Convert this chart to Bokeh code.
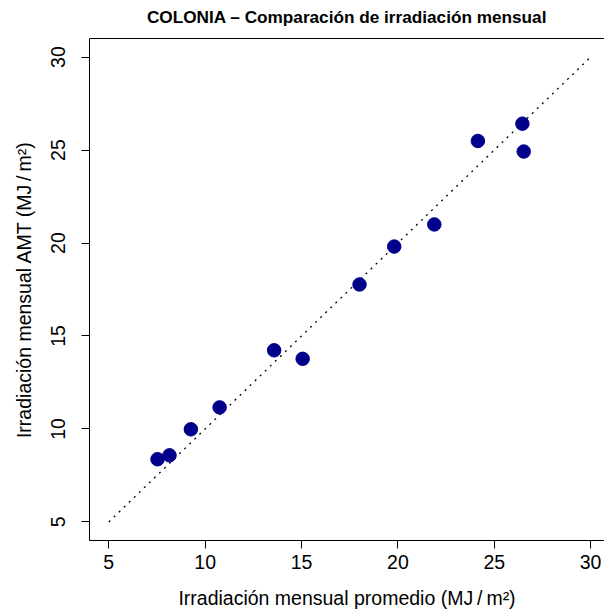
from bokeh.plotting import figure
from bokeh.models import LinearAxis, FixedTicker, Range1d
from bokeh.embed import file_html
from bokeh.resources import INLINE

# Data
promedio = [7.53, 8.15, 9.26, 10.75, 13.58, 15.06, 18.01, 19.81, 21.89, 24.15, 26.46, 26.53]
amt = [8.37, 8.58, 9.98, 11.16, 14.23, 13.77, 17.77, 19.81, 21.00, 25.49, 26.42, 24.92]
diag = [5, 30]
ticks = [5, 10, 15, 20, 25, 30]

title = "COLONIA \u2013 Comparaci\u00f3n de irradiaci\u00f3n mensual"
xlabel = "Irradiaci\u00f3n mensual promedio (MJ\u2009/\u2009m\u00b2)"
ylabel = "Irradiaci\u00f3n mensual AMT (MJ\u2009/\u2009m\u00b2)"

FONT = "Liberation Sans"

p = figure(width=604, height=611, output_backend="svg", toolbar_location=None,
           x_range=Range1d(4, 30.72), y_range=Range1d(4, 31),
           min_border_left=89, min_border_right=0, min_border_top=38, min_border_bottom=71,
           outline_line_color=None, background_fill_color="white", border_fill_color="white")
p.grid.visible = False

for ax in (p.xaxis[0], p.yaxis[0]):
    ax.ticker = FixedTicker(ticks=ticks)
    ax.minor_tick_line_color = None
    ax.major_tick_in = 0
    ax.major_tick_out = 8
    ax.major_tick_line_color = "black"
    ax.axis_line_color = "black"
    ax.major_label_text_font = FONT
    ax.major_label_text_font_size = "19.5px"
    ax.major_label_text_color = "black"
    ax.axis_label_text_font = FONT
    ax.axis_label_text_font_size = "19.5px"
    ax.axis_label_text_font_style = "normal"
    ax.axis_label_text_color = "black"

p.xaxis.axis_label = xlabel
p.yaxis.axis_label = ylabel
p.xaxis.major_label_standoff = 6
p.xaxis.axis_label_standoff = 15
p.yaxis.major_label_orientation = "vertical"
p.yaxis.major_label_standoff = 16
p.yaxis.axis_label_standoff = 14

# Top side of the box, carrying the chart title
top = LinearAxis(ticker=FixedTicker(ticks=[]), major_tick_out=0, major_tick_in=0,
                 minor_tick_line_color=None, major_label_standoff=0,
                 major_label_text_font_size="0px", axis_line_color="black",
                 axis_label=title, axis_label_standoff=12,
                 axis_label_text_font=FONT, axis_label_text_font_size="17.2px",
                 axis_label_text_font_style="bold", axis_label_text_color="black")
p.add_layout(top, "above")

p.line(diag, diag, line_color="black", line_width=1.3, line_dash="2 5")
p.scatter(promedio, amt, size=13.5, marker="circle", fill_color="#00008B", line_color="#00008B")

open("out.html", "w").write(file_html(p, INLINE))
